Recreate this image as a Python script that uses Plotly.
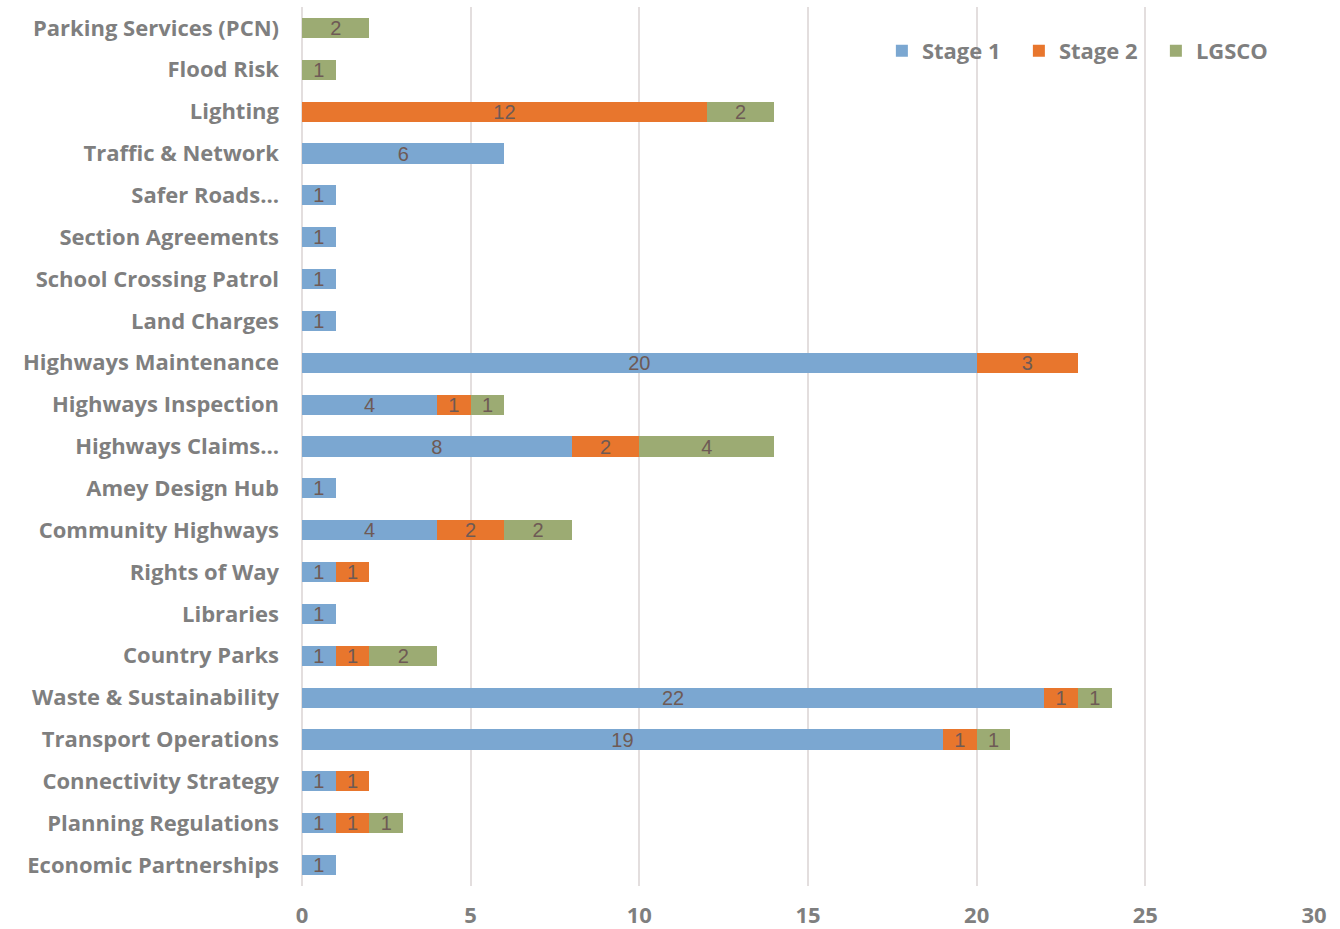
import plotly.graph_objects as go

categories = ["Economic Partnerships", "Planning Regulations", "Connectivity Strategy",
              "Transport Operations", "Waste & Sustainability", "Country Parks", "Libraries",
              "Rights of Way", "Community Highways", "Amey Design Hub", "Highways Claims…",
              "Highways Inspection", "Highways Maintenance", "Land Charges",
              "School Crossing Patrol", "Section Agreements", "Safer Roads…",
              "Traffic & Network", "Lighting", "Flood Risk", "Parking Services (PCN)"]
stage1 = [1, 1, 1, 19, 22, 1, 1, 1, 4, 1, 8, 4, 20, 1, 1, 1, 1, 6, None, None, None]
stage2 = [None, 1, 1, 1, 1, 1, None, 1, 2, None, 2, 1, 3, None, None, None, None, None, 12, None, None]
lgsco = [None, 1, None, 1, 1, 2, None, None, 2, None, 4, 1, None, None, None, None, None, None, 2, 1, 2]
x_ticks = [0, 5, 10, 15, 20, 25, 30]

series = [("Stage 1", stage1, "#7ba7d1"), ("Stage 2", stage2, "#e8762d"), ("LGSCO", lgsco, "#9cab73")]

BOLD = "Open Sans"

fig = go.Figure()
for name, vals, col in series:
    fig.add_trace(go.Bar(
        y=categories, x=vals, name=name, orientation="h",
        marker=dict(color=col, line=dict(width=0)),
        text=[("" if v is None else str(v)) for v in vals],
        textposition="inside", insidetextanchor="middle", textangle=0,
        textfont=dict(family="Liberation Sans, Arial", size=20, color="#6e5a55"),
        constraintext="none",
    ))

fig.update_layout(
    barmode="stack", bargap=0.52,
    width=1340, height=929,
    margin=dict(l=302, r=26, t=7, b=43, autoexpand=False),
    plot_bgcolor="white", paper_bgcolor="white",
    font=dict(family=BOLD, color="#7f7f7f"),
    legend=dict(orientation="h", x=0.573, y=0.974, xanchor="left", yanchor="top",
                font=dict(size=22, color="#7f7f7f", family=BOLD, weight=700),
                bgcolor="rgba(0,0,0,0)", traceorder="normal",
                entrywidth=92, entrywidthmode="pixels"),
    showlegend=True,
)
fig.update_xaxes(range=[0, 30], tickvals=x_ticks, showgrid=True, gridcolor="#e3dede", gridwidth=1.5,
                 zeroline=True, zerolinecolor="#e3dede", zerolinewidth=1.5, showline=False, ticks="",
                 tickfont=dict(size=22, color="#7f7f7f", family=BOLD, weight=700),
                 ticklabelstandoff=14, automargin=False)
fig.update_yaxes(categoryorder="array", categoryarray=categories, showgrid=False, showline=False,
                 ticks="", tickfont=dict(size=22, color="#7f7f7f", family=BOLD, weight=700),
                 ticklabelstandoff=22, automargin=False)

fig.write_html("out.html")
